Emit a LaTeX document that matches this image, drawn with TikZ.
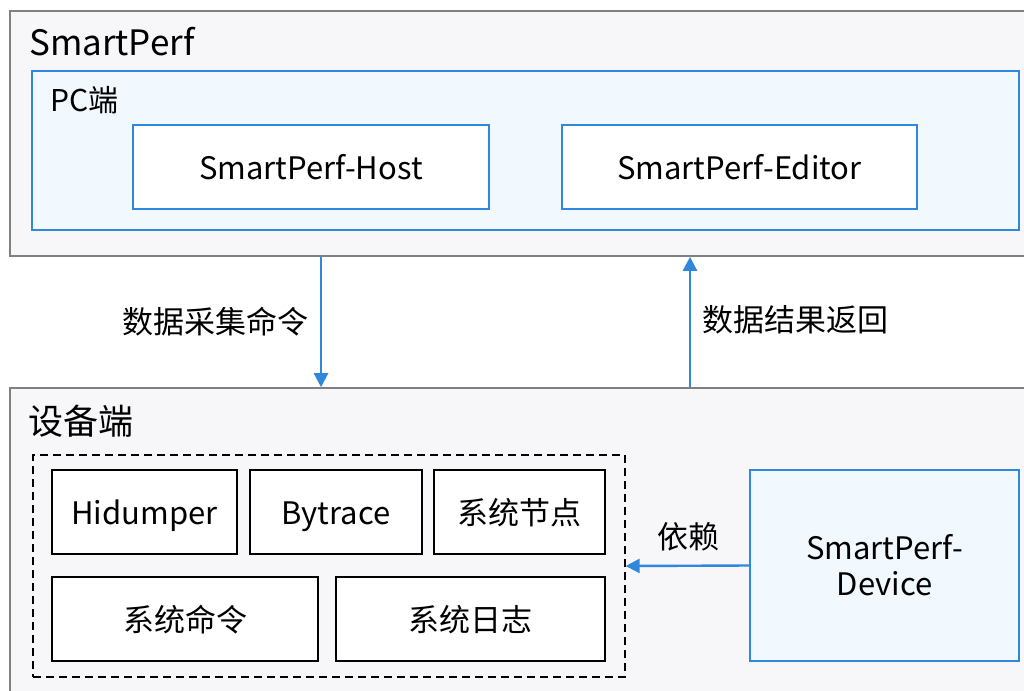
\documentclass[tikz,border=0pt]{standalone}
\usepackage{fontspec}
\setmainfont{Noto Sans CJK SC}
\usetikzlibrary{arrows.meta}
\definecolor{graybg}{HTML}{F7F6F9}
\definecolor{grayline}{HTML}{808080}
\definecolor{blueline}{HTML}{2F88DC}
\definecolor{bluebg}{HTML}{F1F8FE}
\tikzset{
  outerbox/.style={rectangle, draw=grayline, fill=graybg, line width=1.6pt, inner sep=0pt},
  bluebox/.style={rectangle, draw=blueline, fill=bluebg, line width=1.6pt, inner sep=0pt},
  hostbox/.style={rectangle, draw=blueline, fill=white, line width=1.6pt, inner sep=0pt, font=\fontsize{31}{34}\selectfont},
  toolbox/.style={rectangle, draw=black, fill=white, line width=1.6pt, inner sep=0pt, minimum height=84pt, text height=28pt, text depth=4pt, font=\fontsize{31}{34}\selectfont},
  dashbox/.style={rectangle, draw=black, line width=1.3pt, dash pattern=on 8pt off 5pt, inner sep=0pt},
  titletext/.style={anchor=west, inner sep=0pt, font=\fontsize{35}{38}\selectfont},
  subtitletext/.style={anchor=west, inner sep=0pt, font=\fontsize{30}{34}\selectfont},
  lbl/.style={inner sep=0pt, font=\fontsize{31}{34}\selectfont},
  arr/.style={draw=blueline, line width=2.4pt, -{Triangle[length=14pt, width=14pt]}}
}
\begin{document}
\begin{tikzpicture}[x=1pt, y=-1pt]
\useasboundingbox (0,0) rectangle (1024,690);
\clip (0,0) rectangle (1024,690);
% top container
\node[outerbox, minimum width=1020pt, minimum height=245pt] (top) at (520,133.5) {};
\node[titletext] (toptitle) at (29,42) {SmartPerf};
\node[bluebox, minimum width=987pt, minimum height=159pt] (pc) at (525.5,150.5) {};
\node[subtitletext] (pctitle) at (50,100) {PC端};
\node[hostbox, minimum width=356pt, minimum height=84pt] (host) at (311,167) {SmartPerf-Host};
\node[hostbox, minimum width=355pt, minimum height=84pt] (editor) at (739.5,167) {SmartPerf-Editor};
% bottom container
\node[outerbox, minimum width=1020pt, minimum height=312pt] (bottom) at (520,544) {};
\node[titletext] (bottomtitle) at (28,421) {设备端};
\node[dashbox, minimum width=592pt, minimum height=222pt] (group) at (329,566) {};
\node[toolbox, minimum width=185pt] (hid) at (144.5,512) {Hidumper};
\node[toolbox, minimum width=172pt] (byt) at (336,512) {Bytrace};
\node[toolbox, minimum width=171pt] (sysnode) at (519.5,512) {系统节点};
\node[toolbox, minimum width=266pt] (syscmd) at (185,619) {系统命令};
\node[toolbox, minimum width=269pt] (syslog) at (470.5,619) {系统日志};
\node[bluebox, minimum width=269pt, minimum height=191pt, align=center, font=\fontsize{31}{36}\selectfont] (device) at (884.5,565.5) {SmartPerf-\\Device};
% connectors
\coordinate (xdown) at (321,0);
\coordinate (xup) at (690,0);
\draw[arr] (top.south -| xdown) -- (bottom.north -| xdown);
\draw[arr] (bottom.north -| xup) -- (top.south -| xup);
\draw[arr] (device.west) -- (group.east);
\node[lbl] (l1) at (215,322) {数据采集命令};
\node[lbl] (l2) at (795,320) {数据结果返回};
\node[lbl] (l3) at (688,537) {依赖};
\end{tikzpicture}
\end{document}
